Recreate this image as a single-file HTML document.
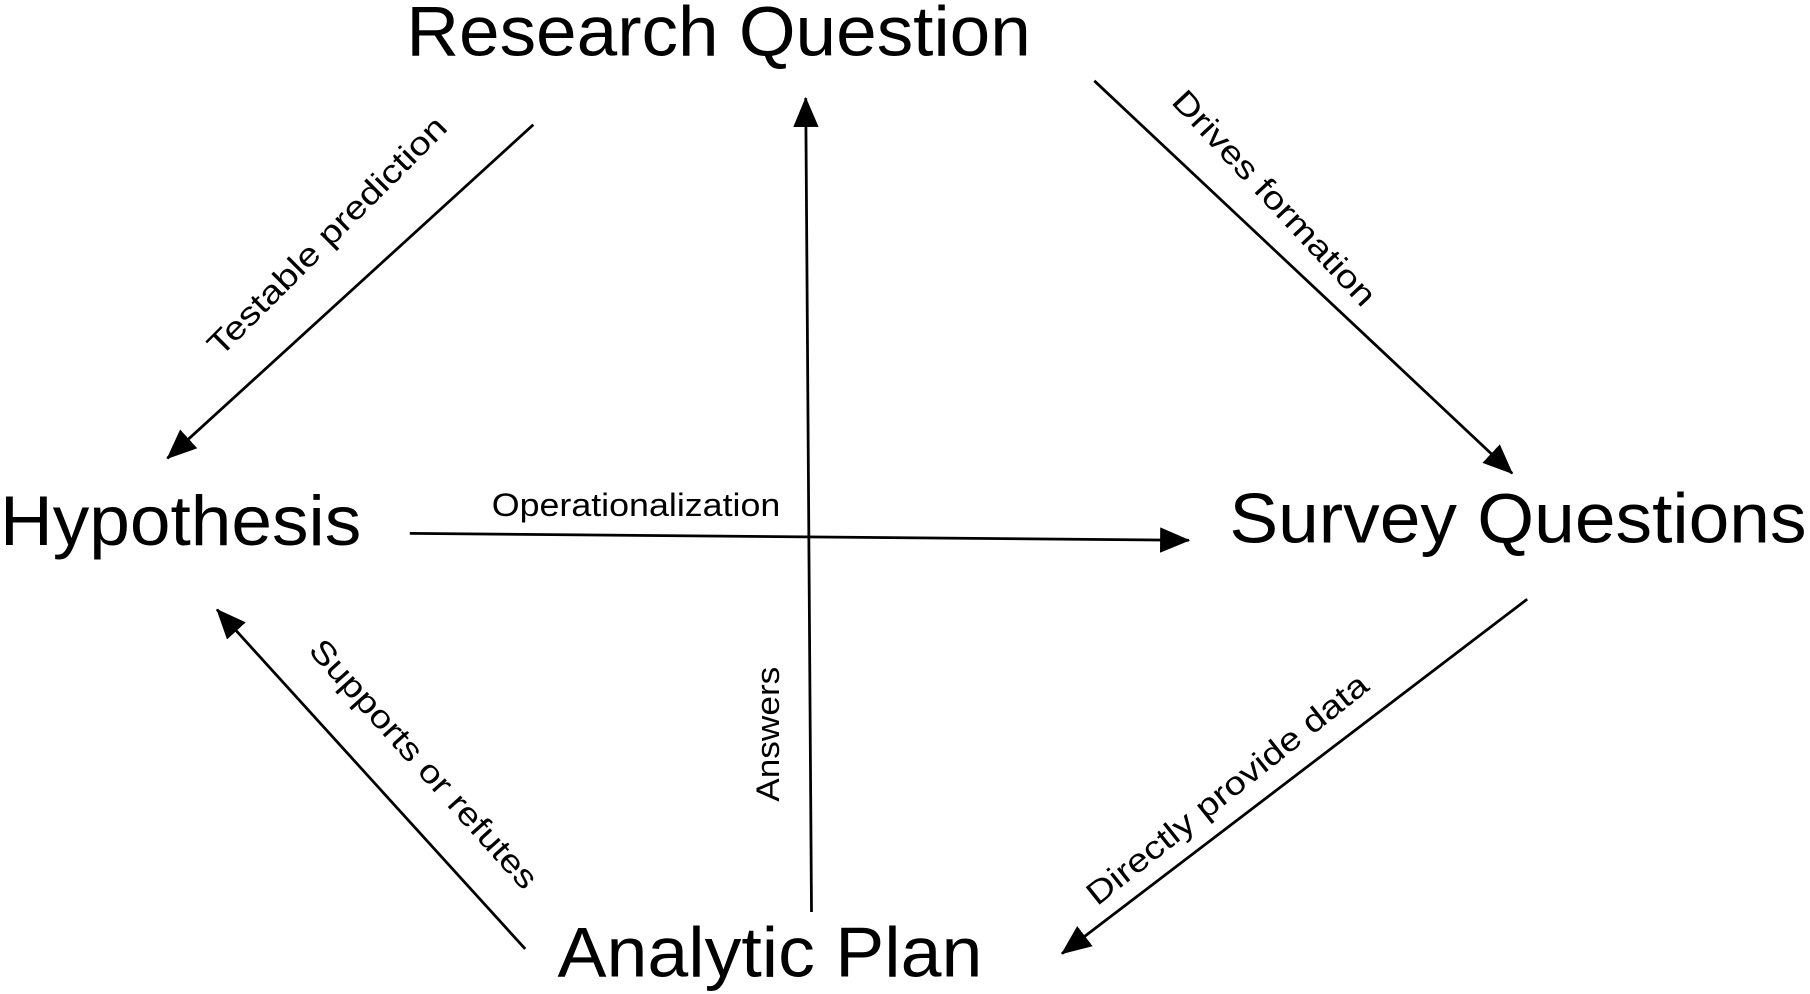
<!DOCTYPE html>
<html><head><meta charset="utf-8"><style>html,body{margin:0;padding:0;background:#fff}svg{display:block}</style></head>
<body>
<svg width="1810" height="994" viewBox="0 0 1568 861" preserveAspectRatio="none" xmlns="http://www.w3.org/2000/svg" font-family="Liberation Sans, Arial, sans-serif">
<defs>
<marker id="b" markerWidth="26" markerHeight="22" refX="25" refY="11" orient="auto" markerUnits="userSpaceOnUse" viewBox="0 0 26 22">
<path d="M0,0 L26,11 L0,22 Z" fill="#000"/></marker>
</defs>
<g font-size="61" fill="#000">
<text x="352" y="48" textLength="541" lengthAdjust="spacingAndGlyphs">Research Question</text>
<text x="0" y="472" textLength="313" lengthAdjust="spacingAndGlyphs">Hypothesis</text>
<text x="1065" y="470" textLength="500" lengthAdjust="spacingAndGlyphs">Survey Questions</text>
<text x="483" y="846" textLength="368" lengthAdjust="spacingAndGlyphs">Analytic Plan</text>
</g>
<g stroke="#000" stroke-width="2.4" fill="none">
<line x1="462" y1="108" x2="145" y2="397" marker-end="url(#b)"/>
<line x1="948" y1="70" x2="1310" y2="410" marker-end="url(#b)"/>
<line x1="355" y1="462" x2="1030" y2="468" marker-end="url(#b)"/>
<line x1="703" y1="790" x2="698" y2="85" marker-end="url(#b)"/>
<line x1="455" y1="822" x2="188" y2="528" marker-end="url(#b)"/>
<line x1="1323" y1="519" x2="920" y2="826" marker-end="url(#b)"/>
</g>
<g font-size="28" fill="#000" text-anchor="middle">
<text transform="translate(290,211) rotate(-45)" textLength="280" lengthAdjust="spacingAndGlyphs">Testable prediction</text>
<text transform="translate(1097,178) rotate(47)" textLength="244" lengthAdjust="spacingAndGlyphs">Drives formation</text>
<text x="551" y="447" textLength="250" lengthAdjust="spacingAndGlyphs">Operationalization</text>
<text transform="translate(675,636) rotate(-90)" textLength="117" lengthAdjust="spacingAndGlyphs">Answers</text>
<text transform="translate(360,668) rotate(48)" textLength="280" lengthAdjust="spacingAndGlyphs">Supports or refutes</text>
<text transform="translate(1069,691) rotate(-38.5)" textLength="303" lengthAdjust="spacingAndGlyphs">Directly provide data</text>
</g>
</svg>
</body></html>
